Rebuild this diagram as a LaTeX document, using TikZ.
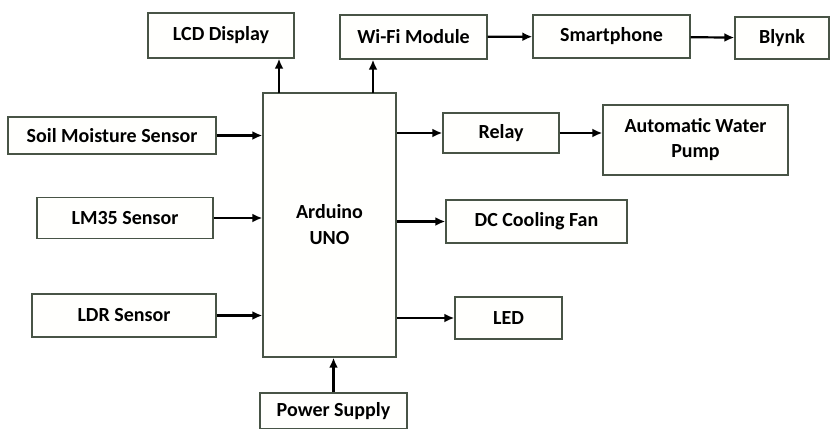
\documentclass[tikz,border=0pt]{standalone}
\usepackage{fontspec}
\setmainfont{Carlito}
\usepackage{tikz}
\usetikzlibrary{arrows.meta,positioning,calc}
\definecolor{boxedge}{RGB}{72,84,70}
\definecolor{boxfill}{RGB}{255,255,253}
\tikzset{
  unit/.style={draw=boxedge, line width=1.4pt, fill=boxfill, align=center,
    font=\fontsize{20}{23}\selectfont\bfseries, inner sep=2pt},
  flow/.style={-{Latex[length=10pt,width=9pt]}, line width=2.2pt, draw=black}
}
\begin{document}
\begin{tikzpicture}[x=1pt,y=-1pt]
  \useasboundingbox (0,0) rectangle (834,428);
  % controller
  \node[unit, minimum width=133pt, minimum height=264pt] (uno) at (329.5,225) {Arduino\\[3pt]UNO};
  % inputs
  \node[unit, minimum width=208pt, minimum height=37pt] (soil) at (112,135.5) {Soil Moisture Sensor};
  \node[unit, minimum width=176pt, minimum height=41pt] (lm35) at (125,218) {LM35 Sensor};
  \node[unit, minimum width=184pt, minimum height=43pt] (ldr) at (124,315.5) {LDR Sensor};
  \node[unit, minimum width=147pt, minimum height=36pt] (power) at (333.5,411) {Power Supply};
  % outputs
  \node[unit, minimum width=146pt, minimum height=45pt] (lcd) at (221,35.5) {LCD Display};
  \node[unit, minimum width=147pt, minimum height=44pt] (wifi) at (413.5,37) {Wi-Fi Module};
  \node[unit, minimum width=157pt, minimum height=43pt] (phone) at (611.5,36.5) {Smartphone};
  \node[unit, minimum width=94pt, minimum height=42pt] (blynk) at (782,38) {Blynk};
  \node[unit, minimum width=116pt, minimum height=40pt] (relay) at (501,133) {Relay};
  \node[unit, minimum width=185pt, minimum height=70pt] (pump) at (695.5,140) {Automatic Water\\[2pt]Pump};
  \node[unit, minimum width=181pt, minimum height=43pt] (fan) at (536.5,221.5) {DC Cooling Fan};
  \node[unit, minimum width=107pt, minimum height=42pt] (led) at (508.5,318) {LED};
  % links
  \coordinate (lcdout) at (279,93);
  \coordinate (wifiout) at (373,93);
  \draw[flow] (lcdout) -- (lcdout |- lcd.south);
  \draw[flow] (wifiout) -- (wifiout |- wifi.south);
  \draw[flow] (wifi) -- (phone);
  \draw[flow] (phone) -- (blynk);
  \draw[flow] (soil) -- (soil -| uno.west);
  \draw[flow] (lm35) -- (lm35 -| uno.west);
  \draw[flow] (ldr) -- (ldr -| uno.west);
  \draw[flow] (power) -- (power |- uno.south);
  \draw[flow] (relay -| uno.east) -- (relay);
  \draw[flow] (relay) -- (relay -| pump.west);
  \draw[flow] (fan -| uno.east) -- (fan);
  \draw[flow] (led -| uno.east) -- (led);
\end{tikzpicture}
\end{document}
